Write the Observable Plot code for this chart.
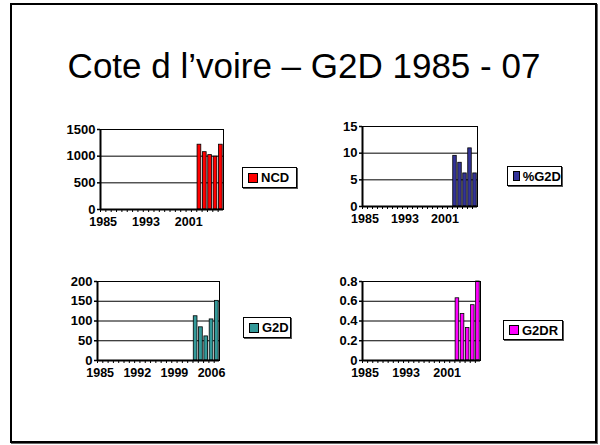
<!DOCTYPE html>
<html><head><meta charset="utf-8">
<script src="https://cdn.jsdelivr.net/npm/d3@7"></script>
<script src="https://cdn.jsdelivr.net/npm/@observablehq/plot@0.6"></script>
<style>
body{margin:0;background:#fff;font-family:"Liberation Sans",Arial,sans-serif;}
#page{position:relative;width:600px;height:445px;overflow:hidden;}
#frame{position:absolute;left:10px;top:3px;width:583px;height:436px;border:2px solid #000;box-shadow:1px 1px 0 #666;}
#title{position:absolute;left:10px;width:588px;top:48px;text-align:center;font-size:35px;line-height:35px;color:#000;}
svg.chart{position:absolute;font-family:"Liberation Sans",Arial,sans-serif;font-weight:bold;background:transparent;overflow:visible;max-width:none;}
.legend{position:absolute;border:1px solid #000;box-shadow:1px 1px 0 #555;background:#fff;font-weight:bold;font-size:13px;display:flex;align-items:center;padding-left:5px;box-sizing:border-box;color:#000;}
.legend .sw{display:inline-block;width:8px;height:8px;border:1px solid #000;margin-right:3px;}
</style></head>
<body><div id="page"><div id="frame"></div><div id="title">Cote d l’voire – G2D 1985 - 07</div></div>
<script>
const years = [1985,1986,1987,1988,1989,1990,1991,1992,1993,1994,1995,1996,1997,1998,1999,2000,2001,2002,2003,2004,2005,2006,2007];
const dataYears = [2003,2004,2005,2006,2007];
const ncdValues = [1215,1075,1020,990,1215];
const pctG2dValues = [9.5,8.2,6.2,10.9,6.2];
const g2dValues = [112,84,61,104,151];
const g2drValues = [0.63,0.47,0.33,0.56,0.80];
const ncdTicks = [0,500,1000,1500];
const pctTicks = [0,5,10,15];
const g2dTicks = [0,50,100,150,200];
const g2drTicks = [0,0.2,0.4,0.6,0.8];
const labelsA = [1985,1993,2001];
const labelsB = [1985,1992,1999,2006];

const page = document.getElementById("page");

function chart({name, values, color, ticks, xLabels, box, legend}) {
  const mL = 50, mR = 12, mT = 15, mB = 25;
  const w = box.x1 - box.x0, h = box.y1 - box.y0;
  const step = w / years.length;
  const data = dataYears.map((y, i) => ({year: y, value: values[i]}));
  const svg = Plot.plot({
    width: w + mL + mR, height: h + mT + mB,
    marginLeft: mL, marginRight: mR, marginTop: mT, marginBottom: mB,
    style: "font-family:'Liberation Sans',Arial,sans-serif;font-weight:bold;font-size:13px;color:#000;background:transparent;overflow:visible;",
    x: {type: "band", domain: years, paddingInner: 0.3, paddingOuter: 0.15, round: false, label: null},
    y: {domain: [0, ticks[ticks.length - 1]], label: null},
    marks: [
      Plot.ruleY(ticks, {stroke: "#000", strokeWidth: 1}),
      Plot.barY(data, {x: "year", y: "value", fill: color, stroke: "#000", strokeWidth: 0.8}),
      Plot.frame({stroke: "#000", strokeWidth: 1}),
      Plot.ruleX([years[0]], {stroke: "#000", strokeWidth: 2, dx: -step / 2}),
      Plot.ruleY([0], {stroke: "#000", strokeWidth: 2}),
      Plot.axisY({ticks: ticks, tickSize: 3, tickPadding: 2, tickFormat: d => String(d), stroke: "#000", strokeWidth: 1.5, fontSize: 13}),
      Plot.axisX({ticks: years, tickSize: 3, tickFormat: () => "", dx: -step / 2, stroke: "#000"}),
      Plot.axisX({ticks: xLabels, tickSize: 0, tickPadding: 8, tickFormat: d => String(d), fontSize: 12.5})
    ]
  });
  svg.classList.add("chart");
  svg.style.left = (box.x0 - mL) + "px";
  svg.style.top = (box.y0 - mT) + "px";
  page.appendChild(svg);

  const lg = document.createElement("div");
  lg.className = "legend";
  lg.style.left = legend.x + "px"; lg.style.top = legend.y + "px";
  lg.style.width = legend.w + "px"; lg.style.height = legend.h + "px";
  const sw = document.createElement("span");
  sw.className = "sw"; sw.style.background = color;
  lg.appendChild(sw);
  lg.appendChild(document.createTextNode(name));
  page.appendChild(lg);
}

chart({name: "NCD", values: ncdValues, color: "#FF0000", ticks: ncdTicks, xLabels: labelsA,
  box: {x0: 100, x1: 223, y0: 129, y1: 209}, legend: {x: 242, y: 167, w: 55, h: 21}});
chart({name: "%G2D", values: pctG2dValues, color: "#333399", ticks: pctTicks, xLabels: labelsA,
  box: {x0: 362, x1: 477, y0: 126, y1: 206}, legend: {x: 507, y: 166, w: 55, h: 20}});
chart({name: "G2D", values: g2dValues, color: "#339999", ticks: g2dTicks, xLabels: labelsB,
  box: {x0: 97, x1: 219, y0: 281, y1: 360}, legend: {x: 243, y: 317, w: 48, h: 21}});
chart({name: "G2DR", values: g2drValues, color: "#FF00FF", ticks: g2drTicks, xLabels: labelsA,
  box: {x0: 362, x1: 480, y0: 281, y1: 360}, legend: {x: 503, y: 320, w: 60, h: 20}});
</script></body></html>
